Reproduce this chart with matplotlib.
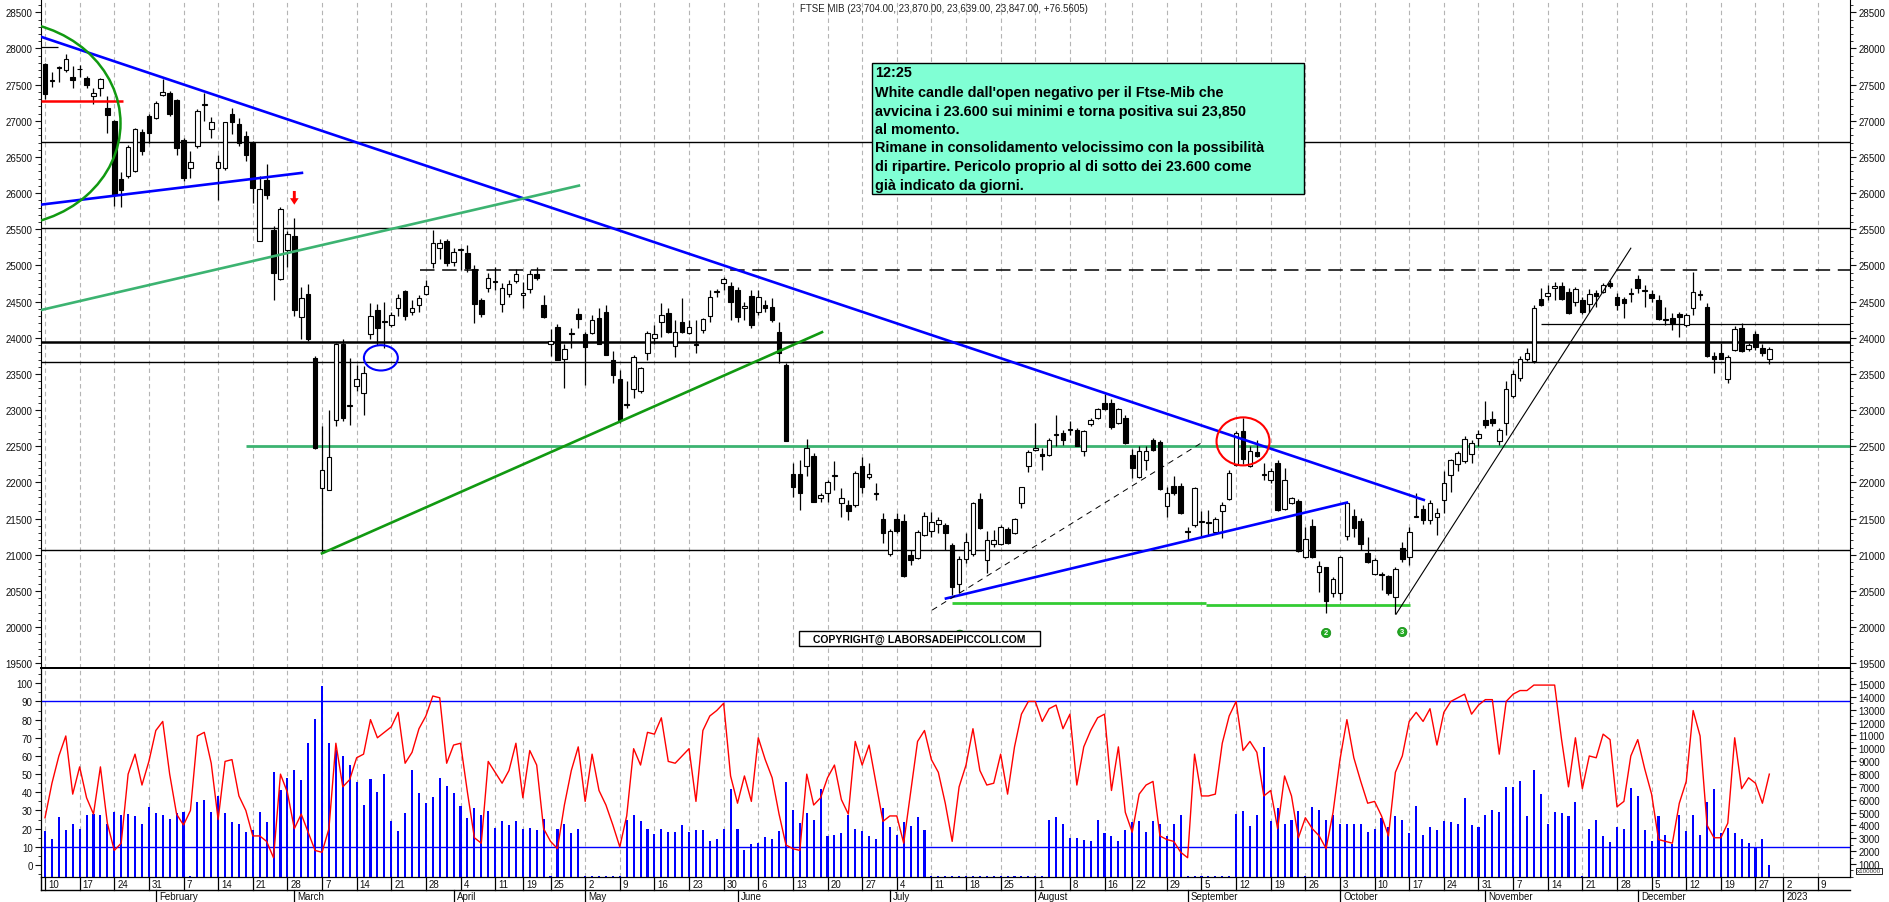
import numpy as np
import pandas as pd
import matplotlib
matplotlib.use("Agg")
import matplotlib.pyplot as plt
from matplotlib.patches import Rectangle, Ellipse, Arc, FancyArrow
from matplotlib.ticker import MultipleLocator

plt.rcParams["font.family"] = ["Liberation Sans", "DejaVu Sans"]

# trading calendar (Borsa Italiana closures)
HOLIDAYS = ["2022-04-15", "2022-04-18", "2022-08-15", "2022-12-26"]
calendar = pd.bdate_range("2022-01-10", "2023-01-13", freq="C", holidays=HOLIDAYS)
N_BARS = 250

opens = [
    27792, 27555, 27730, 27705, 27612, 27710, 27598, 27344, 27459, 27182,
    27000, 26197, 26234, 26303, 26849, 27066, 27043, 27358, 27390, 27284,
    26729, 26349, 26650, 27220, 26881, 26349, 26349, 27089, 26960, 26784,
    26687, 25341, 26187, 25494, 24810, 25216, 25410, 24282, 24601, 23723,
    21921, 21889, 22868, 23921, 23055, 23339, 23238, 24046, 24384, 24215,
    24176, 24407, 24647, 24361, 24453, 24606, 25031, 25240, 25332, 25054,
    25210, 25170, 24948, 24523, 24684, 24770, 24467, 24601, 24786, 24587,
    24670, 24879, 24453, 23908, 24150, 23709, 24055, 24324, 24046, 24060,
    24268, 24352, 23700, 23431, 23070, 23293, 23261, 23783, 24000, 24222,
    24337, 23885, 24222, 24070, 23900, 24107, 24300, 24632, 24763, 24721,
    24661, 24407, 24578, 24361, 24453, 24430, 24074, 23630, 22120, 22120,
    22221, 22369, 21792, 21852, 22085, 21722, 21690, 21690, 22231, 22074,
    21860, 21496, 21006, 21496, 21473, 21001, 20955, 21279, 21334, 21422,
    21413, 21136, 20591, 20946, 21006, 21778, 20932, 21150, 21150, 21353,
    21297, 21713, 22221, 22443, 22397, 22383, 22655, 22683, 22725, 22720,
    22438, 22808, 22891, 23103, 23103, 22822, 22891, 22383, 22074, 22314,
    22591, 22559, 21676, 21954, 21954, 21325, 21413, 21460, 21460, 21320,
    21612, 21769, 22244, 22715, 22221, 22420, 22100, 22037, 22268, 21630,
    21713, 21746, 20965, 21399, 20766, 20826, 20475, 20475, 21260, 21542,
    21473, 21020, 20734, 20725, 20706, 20410, 21099, 20974, 21525, 21630,
    21482, 21519, 21759, 22106, 22258, 22291, 22397, 22614, 22868, 22877,
    22568, 22822, 23201, 23446, 23709, 23677, 24532, 24583, 24684, 24721,
    24629, 24499, 24523, 24462, 24615, 24638, 24754, 24560, 24532, 24610,
    24809, 24642, 24601, 24523, 24250, 24268, 24328, 24176, 24407, 24588,
    24421, 23755, 23783, 23432, 23829, 24139, 23848, 24046, 23861, 23704,
]
highs = [
    27806, 27668, 27760, 27922, 27760, 27770, 27620, 27459, 27598, 27344,
    27011, 26294, 26664, 26904, 26881, 27089, 27274, 27584, 27413, 27298,
    26766, 26581, 27160, 27390, 27057, 26525, 26988, 27182, 27043, 26858,
    26719, 26243, 26396, 25549, 25808, 25471, 25656, 24707, 24745, 23755,
    22776, 22997, 23931, 23977, 23723, 23630, 23607, 24476, 24467, 24499,
    24360, 24600, 24661, 24523, 24592, 24800, 25494, 25364, 25364, 25240,
    25240, 25286, 25008, 24546, 24892, 24985, 24754, 24800, 24948, 24777,
    24939, 24985, 24592, 24125, 24190, 23908, 24130, 24407, 24083, 24314,
    24407, 24453, 23815, 23561, 23400, 23769, 23600, 24090, 24176, 24476,
    24407, 24245, 24546, 24245, 24245, 24270, 24661, 24670, 24846, 24777,
    24707, 24500, 24661, 24661, 24523, 24546, 24222, 23653, 22268, 22314,
    22605, 22406, 21852, 22037, 22291, 21921, 21759, 22152, 22351, 22268,
    21990, 21575, 21357, 21575, 21570, 21061, 21343, 21598, 21588, 21519,
    21436, 21168, 20983, 21306, 21732, 21852, 21325, 21343, 21413, 21390,
    21505, 21944, 22443, 22822, 22475, 22610, 22937, 22729, 22845, 22753,
    22729, 22891, 23030, 23228, 23159, 23025, 22937, 22462, 22499, 22499,
    22614, 22582, 21944, 22083, 21990, 21390, 21944, 21602, 21621, 21528,
    21736, 22175, 22706, 22891, 22499, 22582, 22268, 22200, 22314, 22198,
    21805, 21769, 21390, 21491, 20918, 20835, 20697, 20983, 21722, 21630,
    21505, 21251, 20951, 20760, 20720, 20826, 21182, 21390, 21852, 21690,
    21759, 21644, 22152, 22323, 22429, 22637, 22591, 22729, 23122, 22984,
    22753, 23400, 23552, 23755, 23861, 24453, 24684, 24731, 24777, 24777,
    24684, 24707, 24569, 24670, 24661, 24763, 24800, 24615, 24569, 24684,
    24869, 24731, 24661, 24592, 24430, 24337, 24360, 24337, 24915, 24661,
    24476, 23800, 23931, 23769, 24162, 24208, 23931, 24092, 23921, 23870,
]
lows = [
    27306, 27473, 27538, 27677, 27459, 27612, 27450, 27228, 27344, 26835,
    25817, 25808, 26211, 26289, 26534, 26696, 27020, 27344, 27066, 26534,
    26164, 26211, 26627, 26997, 26766, 25910, 26317, 26812, 26650, 26442,
    25864, 25332, 25924, 24523, 24800, 24985, 24300, 23990, 23954, 22460,
    21020, 21889, 22785, 22845, 22799, 23261, 22937, 23990, 23907, 23861,
    24150, 24300, 24245, 24314, 24360, 24592, 24962, 25087, 24990, 24990,
    24940, 24916, 24208, 24291, 24638, 24661, 24360, 24569, 24754, 24407,
    24615, 24800, 24268, 23746, 23690, 23307, 23861, 24140, 23353, 24046,
    23921, 23769, 23376, 22822, 23030, 23168, 23230, 23700, 23908, 24014,
    24060, 23737, 24060, 24046, 23792, 24060, 24222, 24569, 24661, 24245,
    24222, 24245, 24130, 24314, 24360, 24222, 23653, 22568, 21806, 21621,
    22083, 21736, 21736, 21736, 21898, 21528, 21482, 21667, 21852, 22046,
    21760, 21159, 20990, 21297, 20697, 20853, 20941, 21256, 21242, 21297,
    21066, 20443, 20466, 20891, 20983, 21353, 20747, 21112, 21136, 21150,
    21288, 21644, 22138, 22429, 22166, 22360, 22499, 22522, 22660, 22499,
    22360, 22776, 22882, 22997, 22743, 22808, 22536, 22060, 22060, 22175,
    22429, 21898, 21528, 21829, 21565, 21205, 21385, 21256, 21256, 21297,
    21228, 21759, 22221, 22258, 22212, 22351, 22037, 21990, 21600, 21621,
    21700, 21043, 20951, 20951, 20489, 20189, 20420, 20373, 21205, 21251,
    21066, 20882, 20720, 20512, 20443, 20175, 20905, 20858, 21519, 21427,
    21427, 21274, 21575, 21875, 22152, 22268, 22268, 22499, 22753, 22785,
    22522, 22660, 23168, 23400, 23677, 23650, 24439, 24523, 24523, 24523,
    24328, 24439, 24328, 24360, 24430, 24615, 24684, 24384, 24268, 24500,
    24615, 24430, 24500, 24245, 24176, 24106, 24014, 24153, 24314, 24523,
    23740, 23515, 23709, 23376, 23815, 23801, 23815, 23829, 23755, 23639,
]
closes = [
    27367, 27565, 27750, 27852, 27566, 27718, 27496, 27390, 27584, 27080,
    25980, 26040, 26636, 26890, 26581, 26835, 27251, 27399, 27089, 26627,
    26211, 26428, 27136, 27235, 26988, 26428, 26988, 26983, 26696, 26525,
    26072, 26058, 25970, 24893, 25781, 25433, 24384, 24546, 23977, 22475,
    22166, 22351, 23908, 22891, 23070, 23432, 23515, 24300, 24130, 24230,
    24314, 24546, 24300, 24407, 24554, 24721, 25309, 25309, 25031, 25184,
    25222, 24971, 24467, 24324, 24823, 24784, 24684, 24740, 24879, 24624,
    24883, 24823, 24291, 23954, 23700, 23848, 24065, 24259, 23876, 24245,
    23921, 23769, 23492, 22868, 23082, 23732, 23584, 24069, 24046, 24314,
    24083, 24083, 24078, 24153, 23915, 24254, 24560, 24644, 24809, 24500,
    24291, 24439, 24176, 24569, 24407, 24245, 23792, 22568, 21935, 21861,
    22475, 21736, 21824, 22013, 22100, 21792, 21607, 22129, 21944, 22120,
    21845, 21302, 21334, 21334, 20706, 20932, 21320, 21538, 21459, 21482,
    21297, 20558, 20946, 21177, 21713, 21376, 21200, 21200, 21390, 21168,
    21491, 21935, 22415, 22475, 22369, 22591, 22665, 22591, 22733, 22507,
    22706, 22868, 23011, 23020, 22766, 23016, 22545, 22194, 22429, 22438,
    22452, 21907, 21852, 21852, 21575, 21315, 21917, 21468, 21440, 21491,
    21690, 22129, 22683, 22323, 22429, 22369, 22112, 22152, 21621, 22037,
    21782, 21052, 21214, 20965, 20849, 20359, 20660, 20974, 21713, 21376,
    21145, 20905, 20928, 20733, 20475, 20798, 20937, 21320, 21532, 21482,
    21713, 21575, 21990, 22304, 22406, 22600, 22545, 22669, 22799, 22822,
    22729, 23293, 23506, 23709, 23792, 24407, 24453, 24615, 24717, 24536,
    24347, 24675, 24361, 24601, 24583, 24731, 24721, 24453, 24476, 24620,
    24694, 24652, 24555, 24259, 24258, 24208, 24282, 24314, 24638, 24596,
    23746, 23709, 23709, 23737, 24125, 23815, 23894, 23871, 23792, 23847,
]
# volume, x100000
volumes = [
    3593, 2945, 4630, 3645, 4112, 3723, 4838, 4890, 4812, 4112,
    5019, 4838, 4890, 4708, 4112, 5408, 4941, 4812, 4501, 4967,
    5019, 80, 5849, 6004, 5019, 6264, 4967, 4241, 4086, 3463,
    3671, 5019, 4241, 8131, 6756, 7690, 8312, 7560, 10387, 12280,
    14821, 10387, 9868, 9375, 8701, 7405, 5615, 7612, 6575, 8001,
    4371, 3541, 4941, 8312, 6497, 5719, 6238, 7690, 7094, 6497,
    5538, 4578, 5330, 4812, 5149, 3775, 4371, 4060, 4371, 3723,
    3800, 3671, 4501, 80, 3723, 4112, 3411, 3723, 80, 80,
    80, 80, 80, 80, 4423, 4838, 4319, 3723, 3334, 3723,
    3515, 3463, 4060, 3515, 3671, 3645, 2815, 2945, 3723, 6834,
    3723, 2089, 2556, 2634, 3074, 2945, 3593, 7405, 5201, 4163,
    4967, 4423, 6834, 3204, 3256, 3411, 4812, 3723, 3541, 3204,
    2945, 5356, 3852, 3282, 4241, 3982, 4630, 3645, 80, 80,
    80, 80, 80, 80, 80, 80, 80, 80, 80, 80,
    80, 80, 80, 80, 80, 4423, 4682, 4112, 3023, 2997,
    2893, 2815, 4423, 3411, 3204, 2763, 3645, 4241, 4371, 3515,
    4319, 4112, 3204, 4112, 4812, 80, 80, 80, 80, 80,
    80, 80, 4890, 5149, 3930, 4812, 10076, 4371, 5330, 4112,
    4423, 5097, 80, 5460, 5227, 4449, 4812, 4112, 4112, 4112,
    4112, 3463, 3723, 4553, 3852, 4708, 4449, 3411, 5486, 3282,
    3852, 3671, 4319, 4293, 4112, 6134, 4034, 3904, 4812, 5227,
    5019, 7016, 6964, 7483, 4708, 8312, 6445, 4112, 5071, 4967,
    4760, 5797, 80, 3723, 4423, 3152, 2737, 3852, 3723, 6912,
    6316, 3645, 2815, 4708, 3256, 2556, 4812, 3541, 4812, 3256,
    5797, 6834, 3411, 3775, 3411, 2945, 2634, 2297, 2945, 922,
]
oscillator = [
    26, 45, 60, 71, 39, 54, 37, 28, 54, 23,
    8, 12, 50, 61, 44, 57, 74, 79, 50, 28,
    22, 30, 71, 73, 56, 25, 57, 58, 38, 30,
    16, 16, 13, 4, 50, 40, 20, 28, 18, 8,
    7, 20, 67, 43, 47, 59, 61, 80, 70, 73,
    76, 84, 56, 62, 75, 82, 93, 92, 56, 66,
    67, 40, 15, 12, 57, 51, 45, 52, 67, 37,
    63, 55, 20, 13, 9, 33, 52, 65, 35, 61,
    41, 33, 22, 10, 27, 64, 55, 73, 72, 81,
    57, 56, 60, 64, 35, 74, 82, 85, 89, 49,
    34, 49, 35, 70, 58, 48, 28, 11, 9, 8,
    50, 33, 37, 48, 55, 36, 28, 68, 55, 66,
    45, 24, 27, 27, 12, 40, 68, 74, 58, 51,
    34, 13, 43, 55, 75, 52, 44, 45, 61, 39,
    65, 83, 90, 90, 79, 86, 88, 75, 83, 44,
    65, 74, 81, 83, 41, 65, 29, 18, 39, 44,
    46, 16, 14, 13, 7, 4, 61, 38, 38, 39,
    67, 82, 90, 63, 68, 62, 38, 41, 20, 49,
    38, 15, 26, 20, 16, 9, 29, 58, 80, 59,
    46, 34, 35, 27, 16, 51, 60, 79, 84, 79,
    86, 66, 84, 90, 92, 94, 83, 88, 91, 91,
    61, 90, 94, 96, 96, 99, 99, 99, 99, 69,
    43, 70, 42, 60, 59, 72, 69, 32, 35, 60,
    69, 53, 39, 14, 13, 12, 34, 46, 85, 71,
    22, 15, 15, 23, 70, 42, 48, 45, 34, 50,
]
h_levels = [26710, 25517, 23667, 21066]   # thin black supports/resistances
h_thick = 23940
h_dash = 24939
note_lines = [
    "12:25",
    "White candle dall'open negativo per il Ftse-Mib che",
    "avvicina i 23.600 sui minimi e torna positiva sui 23,850",
    "al momento.",
    "Rimane in consolidamento velocissimo con la possibilità",
    "di ripartire. Pericolo proprio al di sotto dei 23.600 come",
    "già indicato da giorni.",
]
months_en = ["January", "February", "March", "April", "May", "June", "July",
             "August", "September", "October", "November", "December"]

W, H = 1890, 903
XLIM = (-0.58, 260.65)


def box(l, t, r, b):
    return [l / W, 1 - b / H, (r - l) / W, (b - t) / H]


fig = plt.figure(figsize=(W / 100, H / 100), dpi=100)
ax = fig.add_axes(box(41, 0, 1850, 669))
axv = fig.add_axes(box(41, 669, 1850, 878))
axo = axv.twinx()
axd = fig.add_axes(box(41, 878, 1850, 903))

idx = np.arange(N_BARS)
o, hi, lo, c = (np.array(a, float) for a in (opens, highs, lows, closes))

# week / month starts
wk_starts = [0] + [k for k in range(1, len(calendar))
                   if calendar[k].weekday() <= calendar[k - 1].weekday()]
wk_starts = [k for k in wk_starts if k < XLIM[1]]
mo_starts = [k for k in range(1, len(calendar))
             if calendar[k].month != calendar[k - 1].month and k < XLIM[1]]

for a in (ax, axv):
    for k in wk_starts:
        a.axvline(k, color="#b4b4b4", lw=0.8, ls=(0, (4, 3)), zorder=0)

# ---- main price panel
ax.vlines(idx, lo, hi, color="black", lw=0.9, zorder=3)
up = c >= o
ax.bar(idx, np.maximum(np.abs(c - o), 12), bottom=np.minimum(o, c), width=0.66,
       color=np.where(up, "white", "black"), edgecolor="black", linewidth=0.8, zorder=4)

for lv in h_levels:
    ax.axhline(lv, color="black", lw=1.0, zorder=2)
ax.axhline(h_thick, color="black", lw=1.8, zorder=2)
ax.hlines(h_dash, 54.2, XLIM[1], colors="black", lw=1.1, linestyles=(0, (9.5, 5)), zorder=2)
ax.hlines(24190, 216, XLIM[1], colors="black", lw=0.9, zorder=2)
ax.hlines(28014, XLIM[0], 1.9, colors="black", lw=0.9, zorder=2)
ax.hlines(27274, XLIM[0], 11.2, colors="red", lw=1.8, zorder=5)
ax.hlines(22498, 29, XLIM[1], colors="#3cb371", lw=2.0, zorder=2)
ax.hlines(20327, 131.0, 167.7, colors="#33cc33", lw=2.0, zorder=2)
ax.hlines(20304, 167.7, 197.1, colors="#33cc33", lw=2.0, zorder=2)

ax.plot([-0.58, 199.1], [28162, 21759], color="#0000ff", lw=1.9, zorder=5)
ax.plot([-0.58, 37.1], [25841, 26280], color="#0000ff", lw=1.9, zorder=5)
ax.plot([130.1, 188.0], [20396, 21722], color="#0000ff", lw=1.9, zorder=5)
ax.plot([-0.58, 77.1], [24384, 26104], color="#3cb371", lw=1.9, zorder=5)
ax.plot([40.0, 112.2], [21020, 24078], color="#119911", lw=1.9, zorder=5)
ax.plot([128.1, 167.1], [20235, 22554], color="black", lw=0.7, ls=(0, (6, 5)), zorder=5)
ax.plot([195.1, 229.0], [20179, 25239], color="black", lw=0.8, zorder=5)

ax.add_patch(Arc((-6, 26965), 2 * 16.9, 2 * 1417, theta1=-90, theta2=90,
                 color="#119911", lw=1.8, zorder=5))
ax.add_patch(Ellipse((48.5, 23723), 4.9, 350, fill=False, ec="#0000ff", lw=1.5, zorder=6))
ax.add_patch(Ellipse((173, 22568), 7.65, 664, fill=False, ec="red", lw=1.5, zorder=6))
ax.add_patch(FancyArrow(36, 26030, 0, -190, width=0.42, head_width=1.25, head_length=90,
                        length_includes_head=True, color="red", lw=0, zorder=6))

for num, xx, yy in (("1", 132.1, 19895), ("2", 185.0, 19919), ("3", 196.0, 19933)):
    ax.text(xx, yy, num, color="white", fontsize=5.5, fontweight="bold", ha="center",
            va="center", zorder=9,
            bbox=dict(boxstyle="circle,pad=0.15", fc="#22aa22", ec="#118811", lw=0.5))

ax.set_xlim(*XLIM)
ax.set_ylim(19435, 28684)
ax.set_yticks(range(19500, 28501, 500))
ax.yaxis.set_minor_locator(MultipleLocator(100))
ax.set_xticks([])
ax.tick_params(axis="y", which="both", left=True, right=True, labelleft=True,
               labelright=True, labelsize=7, pad=2, colors="#111111")
ax.tick_params(axis="y", which="major", length=4)
ax.tick_params(axis="y", which="minor", length=2)
ax.spines["top"].set_visible(False)
ax.spines["bottom"].set_linewidth(1.3)

# ---- lower panel: volume + oscillator
axv.bar(idx, volumes, width=0.3, color="#0000ff", zorder=2)
axv.set_ylim(-11, 16244)
axv.set_xlim(*XLIM)
axv.set_xticks([])
axv.yaxis.tick_right()
axv.set_yticks(range(1000, 15001, 1000))
axv.yaxis.set_minor_locator(MultipleLocator(500))
axv.tick_params(axis="y", which="both", labelsize=7, pad=2, colors="#111111")
axv.tick_params(axis="y", which="major", length=4)
axv.tick_params(axis="y", which="minor", length=2)

axo.plot(idx, oscillator, color="red", lw=1.0, zorder=3)
axo.axhline(90, color="#0000ff", lw=1.0)
axo.axhline(10, color="#0000ff", lw=1.0)
axo.set_ylim(-6.6, 108.4)
axo.yaxis.tick_left()
axo.set_yticks(range(0, 101, 10))
axo.yaxis.set_minor_locator(MultipleLocator(5))
axo.tick_params(axis="y", which="both", labelsize=7, pad=2, colors="#111111")
axo.tick_params(axis="y", which="major", length=4)
axo.tick_params(axis="y", which="minor", length=2)
for a in (axv, axo):
    a.spines["top"].set_linewidth(1.3)

# ---- date rows
axd.set_xlim(*XLIM)
axd.set_ylim(0, 1)
axd.axis("off")
mid = (903 - 891) / 25
axd.plot(XLIM, [mid, mid], color="black", lw=1.0, clip_on=False)
axd.plot([XLIM[0], XLIM[0]], [mid, 1], color="black", lw=1.0, clip_on=False)
for k in wk_starts:
    axd.plot([k, k], [mid, 1], color="black", lw=0.9)
    axd.text(k + 0.45, (903 - 885) / 25, str(calendar[k].day), fontsize=7,
             ha="left", va="center", color="#111111")
for k in mo_starts:
    d = calendar[k]
    lab = str(d.year) if d.month == 1 else months_en[d.month - 1]
    axd.plot([k, k], [0, mid], color="black", lw=0.9)
    axd.text(k + 0.45, (903 - 897.5) / 25, lab, fontsize=7, ha="left", va="center",
             color="#111111")

fig.text((1851 + 1887) / 2 / W, 1 - 872 / H, "x100000", fontsize=4.5, ha="center",
         va="center", color="#333333",
         bbox=dict(boxstyle="square,pad=0.15", fc="white", ec="black", lw=0.6))

# ---- title and annotations
fig.text(944 / W, 1 - 9 / H, "FTSE MIB (23,704.00, 23,870.00, 23,639.00, 23,847.00, +76.5605)",
         fontsize=7, ha="center", va="center", color="#222222",
         family=["Liberation Sans Narrow", "Liberation Sans"])

fig.add_artist(Rectangle((872 / W, 1 - 195 / H), (1304 - 872) / W, (195 - 64) / H,
                         transform=fig.transFigure, fc="#80ffd4", ec="black", lw=1.0))
for line, yy in zip(note_lines, [72.7, 92.7, 111.7, 130, 148.3, 167.3, 186]):
    fig.text(875 / W, 1 - yy / H, line, fontsize=10.4, fontweight="bold", ha="left",
             va="center", color="black")

fig.add_artist(Rectangle((799 / W, 1 - 647 / H), (1040 - 799) / W, 15 / H,
                         transform=fig.transFigure, fc="white", ec="black", lw=1.0,
                         zorder=8))
fig.text(919.5 / W, 1 - 639.5 / H, "COPYRIGHT@ LABORSADEIPICCOLI.COM", fontsize=7.5,
         fontweight="bold", ha="center", va="center", color="black", zorder=9)

fig.savefig("out.png", dpi=100)
